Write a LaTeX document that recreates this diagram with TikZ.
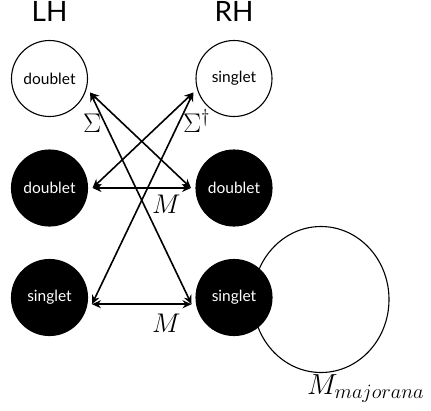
\RequirePackage{fix-cm}
\documentclass[tikz,border=0pt]{standalone}
\usepackage{fontspec}
\setsansfont{Lato}
\usetikzlibrary{
    arrows.meta,
    positioning,
    calc,
    shapes.geometric,
    backgrounds
}
\begin{document}
\begin{tikzpicture}[
    x=1pt, y=-1pt,
    node distance=23.5pt and 98.5pt,
    hollow/.style={
        circle,
        draw=black,
        fill=white,
        line width=1.1pt,
        minimum size=76pt,
        inner sep=0pt,
        outer sep=5pt,
        font=\sffamily\fontsize{15.5}{17}\selectfont
    },
    blob/.style={
        hollow,
        fill=black,
        text=white
    },
    head/.style={
        inner sep=0pt,
        font=\sffamily\fontsize{28}{30}\selectfont
    },
    coupling/.style={
        anchor=base west,
        inner sep=0pt,
        font=\fontsize{27}{30}\selectfont
    },
    arrow/.style={
        {Stealth[length=9pt,width=8pt]}-{Stealth[length=9pt,width=8pt]},
        line width=1.6pt
    }
]
\useasboundingbox (0,0) rectangle (431,410);
%
\node[hollow] (ldt) at (49.5,78.5) {doublet};
\node[hollow, right=of ldt] (rsg) {singlet};
%
\node[blob, below=of ldt] (ldb) {doublet};
\node[blob, below=of rsg] (rdb) {doublet};
%
\node[blob, below=of ldb] (lsb) {singlet};
\node[blob, below=of rdb] (rsb) {singlet};
%
\node[head, above=13.5pt of ldt] (lh) {LH};
\node[head, above=13.5pt of rsg] (rh) {RH};
%
\begin{scope}[on background layer]
\node[
    ellipse,
    draw=black,
    line width=1.1pt,
    minimum width=136pt,
    minimum height=146pt
] (majo) at ($(rsb.center)+(87,2)$) {};
\end{scope}
%
\draw[arrow] (ldt.-19) -- (rdb.west);
\draw[arrow] (ldt.-19) -- (rsb.189);
\draw[arrow] (rsg.199) -- (ldb.east);
\draw[arrow] (rsg.199) -- (lsb.-9);
\draw[arrow] (ldb.east) -- (rdb.west);
\draw[arrow] (lsb.-9) -- (rsb.189);
%
\node[coupling] (sig) at (83,132) {$\Sigma$};
\node[coupling] (sigd) at (183,132) {$\Sigma^\dagger$};
\node[coupling] (mdb) at (152,213) {$M$};
\node[coupling] (msg) at (152,332) {$M$};
\node[coupling, font=\fontsize{29}{32}\selectfont] (mmaj)
    at ($(majo.south)+(-14,21)$) {$M_{majorana}$};
%
\end{tikzpicture}
\end{document}
